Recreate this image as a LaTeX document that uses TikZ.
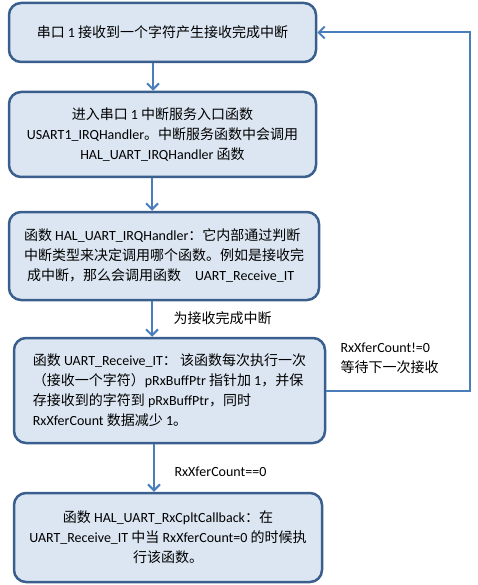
\documentclass[tikz,border=0pt]{standalone}
\usepackage{fontspec}
\setmainfont{Carlito}
\newfontfamily\cjk{Noto Sans CJK SC}
\usetikzlibrary{arrows.meta}
\newcommand\zh[1]{{\cjk #1}}
\definecolor{boxline}{HTML}{3A5F8E}
\definecolor{boxfill}{HTML}{DCE6F2}
\definecolor{arrline}{HTML}{4A7EBB}
\tikzset{l/.style={font=\fontsize{14}{20}\selectfont}}
\tikzset{box/.style={l, draw=boxline, fill=boxfill, line width=2.5pt, rounded corners=12pt, inner sep=0pt}}
\tikzset{arr/.style={draw=arrline, line width=2pt, -{Straight Barb[length=6pt,width=12pt,line width=2pt]}}}

\begin{document}
\begin{tikzpicture}[x=1pt,y=-1pt]
    \useasboundingbox (0,0) rectangle (477,585);
    \node[box, minimum width=307pt, minimum height=59pt] (rx) at (162.5,32.5)
      {\zh{串口} 1 \zh{接收到一个字符产生接收完成中断}};
    \node[box, minimum width=307pt, minimum height=85pt, align=center] (irq) at (162.5,134.5)
      {\zh{进入串口} 1 \zh{中断服务入口函数}\\
       USART1\_IRQHandler\zh{。中断服务函数中会调用}\\
       HAL\_UART\_IRQHandler \zh{函数}};
    \node[box, minimum width=310pt, minimum height=88pt, align=left] (hal) at (164,256)
      {\zh{函数} HAL\_UART\_IRQHandler\zh{：它内部通过判断}\\
       \zh{中断类型来决定调用哪个函数。例如是接收完}\\
       \ \zh{成中断，那么会调用函数}\quad UART\_Receive\_IT};
    \node[box, minimum width=311pt, minimum height=105pt, align=left] (recv) at (169.5,390.5)
      {\zh{函数} UART\_Receive\_IT\zh{：}\ \zh{该函数每次执行一次}\\
       \zh{（接收一个字符）}pRxBuffPtr \zh{指针加} 1\zh{，并保}\\
       \zh{存接收到的字符到} pRxBuffPtr\zh{，同时}\\
       RxXferCount \zh{数据减少} 1\zh{。}};
    \node[box, minimum width=308pt, minimum height=89pt, align=center] (cb) at (168,537.5)
      {\zh{函数} HAL\_UART\_RxCpltCallback\zh{：在}\\
       UART\_Receive\_IT \zh{中当} RxXferCount=0 \zh{的时候执}\\
       \zh{行该函数。}};
    % labels on the connectors
    \node[l, anchor=west] (isrx) at (170,318) {\zh{为接收完成中断}};
    \node[l, anchor=west, align=left] (again) at (337,358) {RxXferCount!=0\\ \zh{等待下一次接收}};
    \node[l, anchor=west] (done) at (171,472) {RxXferCount==0};
    \coordinate (turn) at (470,0 |- rx.east);
    \draw[arr] (153,0 |- rx.south) -- (153,0 |- irq.north);
    \draw[arr] (152,0 |- irq.south) -- (152,0 |- hal.north);
    \draw[arr] (152,0 |- hal.south) -- (152,0 |- recv.north);
    \draw[arr] (154,0 |- recv.south) -- (154,0 |- cb.north);
    \draw[arr] (recv.east) -| (turn) -- (rx.east);
  \end{tikzpicture}
\end{document}
